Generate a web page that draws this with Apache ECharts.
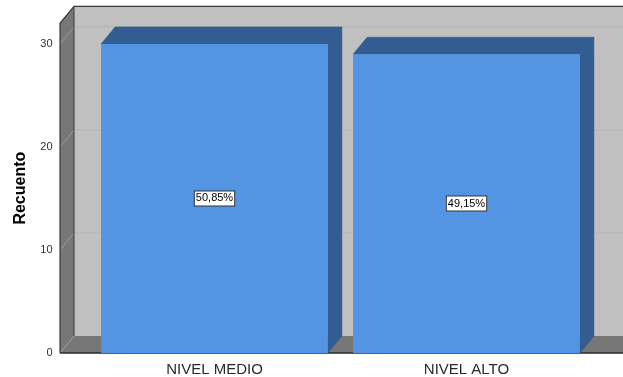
<!DOCTYPE html>
<html>
<head>
<meta charset="utf-8">
<script src="https://cdn.jsdelivr.net/npm/echarts@6/dist/echarts.min.js"></script>
<style>
html,body{margin:0;padding:0;background:#fff;}
#c{width:623px;height:377px;}
</style>
</head>
<body>
<div id="c"></div>
<script>
const categories = ['NIVEL MEDIO', 'NIVEL ALTO'];
const counts = [30, 29];
const yTicks = [0, 10, 20, 30];
const yAxisName = 'Recuento';

const total = counts.reduce((a, b) => a + b, 0);
const pctLabels = counts.map(v => (v / total * 100).toFixed(2).replace('.', ',') + '%');

const DX = 14, DY = -17;           // depth offset of the 3D box
const WALL_LEFT_GAP = 28.5;        // left wall distance from the grid's left edge
const FRONT = '#5394e3', SIDE = '#335d92', EDGE = '#2f5486';

const chart = echarts.init(document.getElementById('c'), null, {renderer: 'canvas'});

function wallsRender(params, api) {
  const cs = params.coordSys;
  const xl = cs.x - WALL_LEFT_GAP;
  const xr = 700;
  const yTop = cs.y;
  const yBot = api.coord([0, 0])[1];
  const children = [];
  children.push({type: 'rect', shape: {x: xl + DX, y: yTop + DY, width: xr, height: yBot - yTop},
    style: {fill: '#c0c0c0'}});
  children.push({type: 'polygon', shape: {points: [[xl, yBot], [xl + DX, yBot + DY], [xr, yBot + DY], [xr, yBot]]},
    style: {fill: '#777777'}});
  children.push({type: 'polygon', shape: {points: [[xl, yTop], [xl + DX, yTop + DY], [xl + DX, yBot + DY], [xl, yBot]]},
    style: {fill: '#777777'}});
  yTicks.forEach(t => {
    if (t === 0) return;
    const y = api.coord([0, t])[1];
    children.push({type: 'line', shape: {x1: xl, y1: y, x2: xl + DX, y2: y + DY},
      style: {stroke: '#9a9a9a', lineWidth: 1}});
    children.push({type: 'line', shape: {x1: xl + DX, y1: y + DY, x2: xr, y2: y + DY},
      style: {stroke: '#b4b4b4', lineWidth: 1}});
  });
  children.push({type: 'line', shape: {x1: xl, y1: yBot, x2: xl + DX, y2: yBot + DY},
    style: {stroke: '#9a9a9a', lineWidth: 1}});
  children.push({type: 'polyline', shape: {points: [[xl, yBot], [xl, yTop], [xl + DX, yTop + DY], [xr, yTop + DY]]},
    style: {stroke: '#3a3a3a', lineWidth: 1.2, fill: null}});
  children.push({type: 'line', shape: {x1: xl + DX, y1: yTop + DY, x2: xl + DX, y2: yBot + DY},
    style: {stroke: '#3a3a3a', lineWidth: 1}});
  children.push({type: 'line', shape: {x1: xl, y1: yBot, x2: xr, y2: yBot},
    style: {stroke: '#2a2a2a', lineWidth: 1.5}});
  return {type: 'group', children};
}

function barsRender(params, api) {
  const i = api.value(0), v = api.value(1);
  const base = api.coord([i, 0]);
  const top = api.coord([i, v]);
  const w = api.size([1, 0])[0] * 0.9;
  const l = base[0] - w / 2, r = base[0] + w / 2, t = top[1], b = base[1];
  return {type: 'group', children: [
    {type: 'polygon', shape: {points: [[l, t], [l + DX, t + DY], [r + DX, t + DY], [r, t]]},
      style: {fill: SIDE, stroke: EDGE, lineWidth: 0.5}},
    {type: 'polygon', shape: {points: [[r, t], [r + DX, t + DY], [r + DX, b + DY], [r, b]]},
      style: {fill: SIDE, stroke: EDGE, lineWidth: 0.5}},
    {type: 'rect', shape: {x: l, y: t, width: w, height: b - t},
      style: {fill: FRONT}},
    {type: 'text', x: base[0], y: (t + b) / 2,
      style: {text: pctLabels[params.dataIndex], fill: '#000', font: '11px "Liberation Sans", Arial, sans-serif',
        align: 'center', verticalAlign: 'middle', backgroundColor: '#fff', borderColor: '#333', borderWidth: 1,
        padding: [2, 1, 1, 1]}}
  ]};
}

chart.setOption({
  animation: false,
  grid: {left: 88.5, width: 504, top: 23.3, bottom: 23, containLabel: false},
  xAxis: {
    type: 'category', data: categories,
    axisLine: {show: false}, axisTick: {show: false},
    axisLabel: {color: '#2a2a2a', fontSize: 15, fontFamily: '"Liberation Sans", Arial, sans-serif', margin: 9}
  },
  yAxis: {
    type: 'value', min: 0, max: 32, interval: 10,
    name: yAxisName, nameLocation: 'middle', nameRotate: 90, nameGap: 60,
    nameTextStyle: {color: '#000', fontSize: 16, fontWeight: 'bold', fontFamily: '"Liberation Sans", Arial, sans-serif'},
    axisLine: {show: false}, axisTick: {show: false}, splitLine: {show: false},
    axisLabel: {color: '#333', fontSize: 11, fontFamily: '"Liberation Sans", Arial, sans-serif', margin: 36,
      formatter: v => (yTicks.indexOf(v) >= 0 ? String(v) : '')}
  },
  series: [
    {type: 'custom', renderItem: wallsRender, data: [[0, 0]], silent: true, z: 1, clip: false},
    {type: 'custom', renderItem: barsRender, data: counts.map((v, i) => [i, v]), z: 2, clip: false}
  ]
});
</script>
</body>
</html>
